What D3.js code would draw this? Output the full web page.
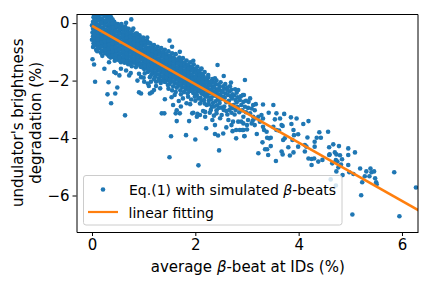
<!DOCTYPE html>
<html lang="en">

<head>
    <meta charset="UTF-8">
    <title>Brightness degradation vs beta-beat</title>
    <script src="https://d3js.org/d3.v7.min.js"></script>
    <style>
        html, body { margin: 0; padding: 0; background: #fff; }
        svg { display: block; }
        text { font-family: "DejaVu Sans", sans-serif; fill: #000; }
        .domain, .tick line { stroke: #000; stroke-width: 1px; }
    </style>
</head>

<body>
    <div id="chart"></div>

    <script>
        // Points, [beta-beat %, degradation %]
        // the thick band, left part
        const bandLeft = [
            [0.01,0.38],[0.03,0.2],[0.02,0.05],[0.0,-0.08],[0.02,-0.2],[0.01,-0.33],[0.02,-0.46],[0.0,-0.58],[0.03,-0.7],[0.02,-0.83],
            [0.07,0.33],[0.09,0.16],[0.07,0.02],[0.08,-0.14],[0.1,-0.27],[0.06,-0.39],[0.09,-0.52],[0.07,-0.66],[0.1,-0.79],[0.08,-0.93],
            [0.15,0.36],[0.13,0.21],[0.16,0.07],[0.14,-0.08],[0.16,-0.22],[0.13,-0.36],[0.17,-0.49],[0.14,-0.62],[0.16,-0.75],[0.13,-0.88],[0.17,-1.03],
            [0.22,0.3],[0.2,0.14],[0.23,0.0],[0.21,-0.15],[0.24,-0.29],[0.2,-0.43],[0.23,-0.56],[0.21,-0.71],[0.24,-0.84],[0.22,-0.98],[0.2,-1.14],
            [0.28,0.33],[0.3,0.17],[0.27,0.02],[0.31,-0.12],[0.29,-0.26],[0.27,-0.41],[0.3,-0.55],[0.28,-0.68],[0.31,-0.82],[0.28,-0.95],[0.3,-1.09],
            [0.37,0.2],[0.35,0.06],[0.38,-0.1],[0.36,-0.23],[0.34,-0.37],[0.38,-0.5],[0.35,-0.64],[0.37,-0.78],[0.34,-0.91],[0.38,-1.05],[0.36,-1.2],
            [0.43,0.05],[0.41,-0.09],[0.44,-0.22],[0.42,-0.36],[0.45,-0.5],[0.41,-0.63],[0.44,-0.77],[0.42,-0.92],[0.45,-1.05],[0.42,-1.19],[0.44,-1.31],
            [0.5,-0.03],[0.48,-0.16],[0.51,-0.3],[0.49,-0.44],[0.52,-0.58],[0.48,-0.72],[0.51,-0.85],[0.49,-0.99],[0.52,-1.12],[0.49,-1.27],
            [0.57,-0.1],[0.55,-0.24],[0.58,-0.37],[0.56,-0.51],[0.59,-0.65],[0.55,-0.79],[0.58,-0.92],[0.56,-1.06],[0.59,-1.2],[0.56,-1.36],
            [0.64,-0.12],[0.62,-0.27],[0.65,-0.41],[0.63,-0.55],[0.66,-0.68],[0.62,-0.82],[0.65,-0.96],[0.63,-1.1],[0.66,-1.24],[0.63,-1.38],
            [0.71,-0.2],[0.69,-0.34],[0.72,-0.48],[0.7,-0.62],[0.73,-0.75],[0.69,-0.89],[0.72,-1.03],[0.7,-1.16],[0.73,-1.3],[0.7,-1.43],
            [0.78,-0.26],[0.76,-0.41],[0.79,-0.55],[0.77,-0.69],[0.8,-0.82],[0.76,-0.96],[0.79,-1.1],[0.77,-1.24],[0.8,-1.37],[0.77,-1.5],
            [0.85,-0.36],[0.83,-0.5],[0.86,-0.63],[0.84,-0.77],[0.87,-0.91],[0.83,-1.05],[0.86,-1.18],[0.84,-1.32],[0.87,-1.45],
            [0.92,-0.42],[0.9,-0.55],[0.93,-0.69],[0.91,-0.83],[0.94,-0.97],[0.9,-1.1],[0.93,-1.24],[0.91,-1.38],[0.94,-1.52],
            [0.99,-0.5],[0.97,-0.63],[1.0,-0.77],[0.98,-0.91],[1.01,-1.04],[0.97,-1.18],[1.0,-1.32],[0.98,-1.46],[1.01,-1.6],
            [1.06,-0.6],[1.04,-0.73],[1.07,-0.87],[1.05,-1.01],[1.08,-1.15],[1.04,-1.28],[1.07,-1.42],[1.05,-1.56],[1.08,-1.7],
            [1.13,-0.7],[1.11,-0.84],[1.14,-0.97],[1.12,-1.11],[1.15,-1.25],[1.11,-1.39],[1.14,-1.52],[1.12,-1.65],[1.15,-1.8]
        ];
        // the thick band, right part
        const bandRight = [
            [1.2,-0.76],[1.18,-0.9],[1.21,-1.04],[1.19,-1.18],[1.22,-1.31],[1.18,-1.45],[1.21,-1.59],[1.19,-1.73],[1.22,-1.87],
            [1.27,-0.82],[1.25,-0.96],[1.28,-1.1],[1.26,-1.24],[1.29,-1.38],[1.25,-1.51],[1.28,-1.65],[1.26,-1.79],[1.29,-1.93],
            [1.34,-0.87],[1.32,-1.02],[1.35,-1.16],[1.33,-1.3],[1.36,-1.44],[1.32,-1.58],[1.35,-1.72],[1.33,-1.86],[1.36,-1.99],
            [1.41,-0.93],[1.39,-1.08],[1.42,-1.22],[1.4,-1.36],[1.43,-1.5],[1.39,-1.64],[1.42,-1.78],[1.4,-1.92],
            [1.48,-0.98],[1.46,-1.14],[1.49,-1.28],[1.47,-1.42],[1.5,-1.56],[1.46,-1.7],[1.49,-1.84],[1.47,-1.98],[1.5,-2.12],
            [1.55,-1.05],[1.53,-1.2],[1.56,-1.34],[1.54,-1.48],[1.57,-1.62],[1.53,-1.76],[1.56,-1.9],[1.54,-2.04],[1.57,-2.2],
            [1.62,-1.08],[1.6,-1.25],[1.63,-1.4],[1.61,-1.54],[1.64,-1.68],[1.6,-1.82],[1.63,-1.96],[1.61,-2.1],[1.64,-2.25],
            [1.69,-1.2],[1.67,-1.34],[1.7,-1.48],[1.68,-1.62],[1.71,-1.76],[1.67,-1.9],[1.7,-2.04],[1.68,-2.18],[1.71,-2.34],
            [1.76,-1.22],[1.74,-1.38],[1.77,-1.52],[1.75,-1.67],[1.78,-1.81],[1.74,-1.95],[1.77,-2.09],[1.75,-2.24],
            [1.83,-1.3],[1.81,-1.45],[1.84,-1.6],[1.82,-1.74],[1.85,-1.88],[1.81,-2.02],[1.84,-2.16],[1.82,-2.3],[1.85,-2.44],
            [1.9,-1.36],[1.88,-1.52],[1.91,-1.66],[1.89,-1.8],[1.92,-1.94],[1.88,-2.08],[1.91,-2.22],[1.89,-2.36],
            [1.97,-1.44],[1.95,-1.58],[1.98,-1.72],[1.96,-1.87],[1.99,-2.01],[1.95,-2.15],[1.98,-2.29],[1.96,-2.43],
            [2.04,-1.52],[2.02,-1.66],[2.05,-1.8],[2.03,-1.95],[2.06,-2.09],[2.02,-2.23],[2.05,-2.37],[2.03,-2.5],
            [2.11,-1.6],[2.09,-1.74],[2.12,-1.88],[2.1,-2.02],[2.13,-2.16],[2.09,-2.3],[2.12,-2.45],[2.1,-2.6],
            [2.18,-1.7],[2.16,-1.84],[2.19,-1.98],[2.17,-2.12],[2.2,-2.26],[2.16,-2.4],[2.19,-2.54],[2.17,-2.68],
            [2.25,-1.88],[2.23,-2.0],[2.26,-2.14],[2.24,-2.28],[2.27,-2.42],[2.23,-2.56],[2.26,-2.7],
            [2.33,-1.95],[2.31,-2.08],[2.34,-2.22],[2.32,-2.36],[2.35,-2.5],[2.31,-2.64],[2.34,-2.78],
            [2.41,-2.0],[2.39,-2.14],[2.42,-2.3],[2.4,-2.44],[2.43,-2.58],[2.39,-2.72],[2.42,-2.86],
            [2.49,-2.06],[2.47,-2.22],[2.5,-2.36],[2.48,-2.5],[2.51,-2.64],[2.47,-2.78],[2.5,-2.94],
            [2.58,-2.12],[2.56,-2.28],[2.59,-2.45],[2.57,-2.6],[2.6,-2.75],[2.56,-2.9],[2.6,-3.06],
            [2.67,-2.2],[2.66,-2.38],[2.69,-2.55],[2.65,-2.7],[2.68,-2.88],[2.66,-3.02],
            [2.77,-2.3],[2.75,-2.52],[2.78,-2.68],[2.74,-2.85],[2.78,-3.02],[2.76,-3.18]
        ];
        // more of the solid middle of the band
        const bandFill = [
            [0.04,0.28],[0.05,0.12],[0.04,-0.03],[0.05,-0.15],[0.04,-0.27],[0.05,-0.4],[0.04,-0.53],[0.05,-0.64],[0.04,-0.76],
            [0.11,0.25],[0.12,0.1],[0.11,-0.05],[0.12,-0.2],[0.11,-0.33],[0.12,-0.46],[0.11,-0.58],[0.12,-0.72],[0.11,-0.86],[0.1,-0.98],
            [0.18,0.3],[0.19,0.15],[0.18,0.0],[0.19,-0.15],[0.18,-0.29],[0.19,-0.43],[0.18,-0.55],[0.19,-0.68],[0.18,-0.82],[0.19,-0.96],
            [0.25,0.24],[0.26,0.08],[0.25,-0.08],[0.26,-0.22],[0.25,-0.36],[0.26,-0.5],[0.25,-0.63],[0.26,-0.77],[0.25,-0.91],[0.26,-1.05],
            [0.33,0.24],[0.33,0.1],[0.33,-0.05],[0.34,-0.19],[0.32,-0.33],[0.33,-0.48],[0.32,-0.61],[0.33,-0.75],[0.32,-0.88],[0.33,-1.02],[0.33,-1.15],
            [0.4,0.12],[0.4,-0.02],[0.41,-0.16],[0.39,-0.3],[0.4,-0.43],[0.39,-0.57],[0.4,-0.71],[0.39,-0.85],[0.4,-0.98],[0.4,-1.12],
            [0.46,-0.02],[0.47,-0.1],[0.46,-0.28],[0.47,-0.42],[0.46,-0.56],[0.47,-0.69],[0.46,-0.83],[0.47,-0.97],[0.46,-1.11],[0.47,-1.23],
            [0.53,-0.1],[0.54,-0.2],[0.53,-0.37],[0.54,-0.5],[0.53,-0.64],[0.54,-0.78],[0.53,-0.92],[0.54,-1.05],[0.53,-1.19],[0.54,-1.3],
            [0.6,-0.18],[0.61,-0.32],[0.6,-0.45],[0.61,-0.59],[0.6,-0.73],[0.61,-0.87],[0.6,-1.0],[0.61,-1.15],[0.6,-1.29],
            [0.67,-0.25],[0.68,-0.38],[0.67,-0.52],[0.68,-0.66],[0.67,-0.8],[0.68,-0.94],[0.67,-1.08],[0.68,-1.2],[0.67,-1.35],
            [0.74,-0.33],[0.75,-0.47],[0.74,-0.6],[0.75,-0.74],[0.74,-0.88],[0.75,-1.02],[0.74,-1.16],[0.75,-1.3],[0.74,-1.42],
            [0.81,-0.4],[0.82,-0.54],[0.81,-0.68],[0.82,-0.82],[0.81,-0.96],[0.82,-1.1],[0.81,-1.23],[0.82,-1.38],
            [0.88,-0.47],[0.89,-0.61],[0.88,-0.75],[0.89,-0.89],[0.88,-1.03],[0.89,-1.17],[0.88,-1.3],[0.89,-1.44],
            [0.95,-0.55],[0.96,-0.69],[0.95,-0.83],[0.96,-1.0],[0.95,-1.12],[0.96,-1.25],[0.95,-1.4],[0.96,-1.53],
            [1.02,-0.66],[1.03,-0.8],[1.02,-0.94],[1.03,-1.08],[1.02,-1.22],[1.03,-1.35],[1.02,-1.49],
            [1.09,-0.7],[1.1,-0.9],[1.09,-1.04],[1.1,-1.18],[1.09,-1.32],[1.1,-1.46],[1.09,-1.6],
            [1.16,-0.83],[1.17,-0.97],[1.16,-1.11],[1.17,-1.25],[1.16,-1.39],[1.17,-1.53],[1.16,-1.67],
            [1.23,-0.89],[1.24,-1.03],[1.23,-1.17],[1.24,-1.31],[1.23,-1.45],[1.24,-1.59],[1.23,-1.73],
            [1.3,-0.95],[1.31,-1.09],[1.3,-1.23],[1.31,-1.37],[1.3,-1.51],[1.31,-1.65],[1.3,-1.79],
            [1.37,-1.01],[1.38,-1.15],[1.37,-1.29],[1.38,-1.43],[1.37,-1.57],[1.38,-1.71],[1.37,-1.85],
            [1.44,-1.07],[1.45,-1.21],[1.44,-1.35],[1.45,-1.49],[1.44,-1.63],[1.45,-1.77],[1.44,-1.91],
            [1.51,-1.13],[1.52,-1.27],[1.51,-1.41],[1.52,-1.55],[1.51,-1.69],[1.52,-1.83],[1.51,-1.97],
            [1.58,-1.19],[1.59,-1.33],[1.58,-1.47],[1.59,-1.61],[1.58,-1.75],[1.59,-1.89],[1.58,-2.03],
            [1.65,-1.27],[1.66,-1.41],[1.65,-1.55],[1.66,-1.69],[1.65,-1.83],[1.66,-1.97],[1.65,-2.11],
            [1.72,-1.3],[1.73,-1.45],[1.72,-1.59],[1.73,-1.74],[1.72,-1.88],[1.73,-2.02],[1.72,-2.16],
            [1.79,-1.37],[1.8,-1.52],[1.79,-1.67],[1.8,-1.81],[1.79,-1.95],[1.8,-2.09],[1.79,-2.23],
            [1.86,-1.44],[1.87,-1.59],[1.86,-1.73],[1.87,-1.87],[1.86,-2.01],[1.87,-2.15],[1.86,-2.29],
            [1.93,-1.51],[1.94,-1.65],[1.93,-1.8],[1.94,-1.94],[1.93,-2.08],[1.94,-2.22],[1.93,-2.36],
            [2.0,-1.59],[2.01,-1.73],[2.0,-1.88],[2.01,-2.02],[2.0,-2.16],[2.01,-2.3],[2.0,-2.44],
            [2.07,-1.67],[2.08,-1.81],[2.07,-1.95],[2.08,-2.09],[2.07,-2.23],[2.08,-2.37],
            [2.14,-1.77],[2.15,-1.91],[2.14,-2.05],[2.15,-2.19],[2.14,-2.33],[2.15,-2.47],
            [2.21,-1.92],[2.22,-2.06],[2.21,-2.2],[2.22,-2.34],[2.21,-2.48],
            [2.29,-2.03],[2.28,-2.17],[2.29,-2.31],[2.28,-2.45],[2.29,-2.6],
            [2.37,-2.07],[2.36,-2.25],[2.37,-2.38],[2.36,-2.53],
            [2.45,-2.14],[2.44,-2.34],[2.45,-2.48],[2.44,-2.66],
            [2.54,-2.2],[2.53,-2.4],[2.54,-2.56],[2.62,-2.33],[2.63,-2.5]
        ];
        // loose points above the band
        const upperEdge = [
            [0.35,0.28],[0.76,0.13],[0.66,0.01],[0.57,-0.03],[0.67,-0.19],[0.8,-0.19],[0.87,-0.36],[1.07,-0.5],[0.99,-0.57],[1.1,-0.68],
            [1.5,-0.61],[1.55,-0.82],[1.7,-1.0],[1.96,-1.31],[2.12,-1.58],[2.25,-1.81],[2.38,-1.92],[2.43,-1.46],[2.55,-1.84],[2.69,-2.07],
            [2.96,-1.98],[2.83,-2.33],[2.92,-2.5],[3.03,-2.74]
        ];
        // loose points below the band
        const lowerScatter = [
            [0.01,-1.26],[0.04,-1.44],[0.24,-1.59],[0.33,-1.36],[0.43,-1.7],[0.46,-1.74],[0.56,-1.59],[0.66,-1.65],[0.75,-1.74],[0.72,-1.82],
            [0.53,-1.82],[0.91,-1.76],[0.95,-1.88],[0.85,-1.53],[0.06,-2.04],[0.32,-2.06],[0.49,-2.24],[0.3,-2.48],[0.45,-2.45],[0.37,-2.79],
            [0.64,-3.21],[0.88,-2.0],[0.91,-2.41],[0.95,-2.45],[1.12,-2.45],[1.16,-2.41],[1.2,-2.33],[1.24,-2.19],[1.1,-2.19],[1.32,-2.27],
            [1.41,-2.65],[1.35,-3.14],[1.4,-3.14],[1.01,-2.04],[1.08,-2.1],[1.14,-2.04],[1.24,-2.04],[1.33,-2.08],[1.4,-2.04],
            [1.64,-3.41],[1.88,-3.41],[1.53,-3.94],[1.5,-4.67],[1.82,-3.9],[2.0,-4.05],[2.06,-4.95],[2.46,-4.43],[2.38,-3.86],[2.44,-3.91],
            [2.54,-3.84],[2.79,-4.01],[2.95,-3.94],[2.21,-3.66],[2.38,-3.55],[2.33,-3.37],[2.6,-3.63],[2.7,-3.55],[2.72,-3.76],[2.79,-3.72],
            [2.86,-3.72],[2.93,-3.72],[1.62,-3.14],[1.7,-3.14],[1.94,-3.14],[2.03,-3.26],[2.09,-3.2],[2.19,-3.26],[2.19,-3.09],[2.41,-3.14],
            [2.48,-3.31],[2.64,-3.37],[2.73,-3.43],[2.83,-3.43],[2.93,-3.49],[3.0,-3.55],[1.6,-2.5],[1.54,-2.58],[1.68,-2.71],[1.57,-2.85],
            [1.64,-3.03],[1.83,-2.79],[1.96,-3.12],[2.04,-3.16],[2.15,-3.06],[2.22,-2.85],[2.32,-2.91],[2.41,-3.03],[2.51,-3.2],[2.09,-2.8],
            [1.99,-2.56],[2.06,-2.62],
            [2.62,-2.24],[2.7,-2.32],[2.72,-2.48],[2.8,-2.42],[2.82,-2.58],[2.71,-2.62],[2.8,-2.76],[2.72,-2.95],[2.82,-2.92],[2.85,-3.1],
            [2.7,-3.12],[2.62,-3.18],[2.55,-3.02],[2.88,-2.55],[2.98,-2.7],[2.98,-3.1],[3.02,-2.95],
            [1.48,-2.28],[1.55,-2.34],[1.62,-2.4],[1.72,-2.48],[1.78,-2.4],[1.86,-2.56],[1.92,-2.66],[1.76,-2.62],[1.9,-2.82],[1.72,-2.9],
            [2.0,-2.7],[2.12,-2.7],[2.18,-2.8],[2.26,-2.82],[2.3,-3.02],[2.36,-2.9],[2.45,-2.95],[2.28,-3.12],[2.36,-3.22],
            [1.02,-1.75],[1.12,-1.88],[1.2,-1.95],[1.3,-2.0],[1.42,-2.05],[1.47,-2.15],[1.0,-1.9]
        ];
        // the thinning part from x = 2.9 to the right edge
        const tail = [
            [3.31,-2.83],[3.51,-2.85],[3.06,-2.62],[2.94,-2.5],[3.72,-3.16],[3.85,-3.28],[3.96,-3.32],[4.09,-3.51],[4.19,-3.41],[3.86,-3.51],
            [4.4,-3.8],[4.57,-3.78],[4.17,-3.98],[4.35,-3.99],[4.43,-3.99],[4.31,-4.13],[3.9,-3.72],[3.91,-3.9],[3.99,-3.87],[3.7,-4.07],
            [3.73,-4.01],[3.88,-4.07],[3.99,-4.3],[3.8,-4.32],[4.12,-4.24],[4.15,-4.3],[4.31,-4.3],[3.9,-4.5],[3.83,-4.61],[3.67,-4.47],
            [3.69,-4.57],[4.12,-4.47],[4.19,-4.71],[4.25,-4.73],[4.3,-4.71],[4.25,-4.94],[4.38,-4.82],[4.46,-4.76],[4.59,-4.32],[4.59,-4.59],
            [3.56,-4.8],[3.22,-4.53],[3.35,-4.39],[3.39,-4.39],[3.46,-4.28],[3.41,-4.59],[3.3,-4.15],[3.39,-3.99],[3.43,-4.01],[3.46,-3.99],
            [3.19,-3.86],[2.95,-3.93],[2.91,-3.72],[3.0,-3.7],[3.31,-3.61],[3.33,-3.72],[3.38,-3.78],[3.51,-3.61],[3.57,-3.72],[3.62,-3.74],
            [3.69,-3.58],[3.42,-3.12],[3.57,-3.14],[3.54,-3.35],[3.64,-3.32],[3.67,-3.55],[3.28,-3.2],[3.31,-3.32],[3.25,-3.43],[3.12,-2.85],
            [3.17,-2.82],[3.09,-2.97],[3.15,-3.03],[3.06,-3.14],[3.12,-3.26],[3.02,-3.37],[3.09,-3.49],[3.15,-3.55],[2.91,-3.03],[2.89,-2.85],
            [2.96,-2.91],[2.86,-2.68],[2.93,-2.74],[2.93,-3.26],[2.89,-3.43],[3.15,-3.32],[3.22,-3.26],[3.11,-3.4],
            [4.67,-4.22],[4.78,-4.28],[4.96,-4.36],[5.09,-4.5],[4.96,-4.59],[4.6,-4.57],[4.7,-4.5],[4.73,-4.57],[4.8,-4.6],[4.84,-4.74],
            [4.72,-4.77],[4.75,-4.82],[4.65,-4.88],[4.82,-4.92],[4.96,-4.94],[4.77,-5.02],[4.73,-5.16],[4.85,-5.29],[4.98,-5.19],[5.06,-5.25],
            [5.19,-5.06],[5.31,-5.16],[5.39,-5.06],[5.41,-5.19],[5.46,-5.16],[5.28,-5.33],[5.37,-5.33],[5.48,-5.4],[5.23,-5.54],[5.5,-5.54],
            [5.51,-5.61],[5.85,-5.19],[5.21,-5.99],[5.04,-6.66],[5.95,-6.72],[6.27,-5.72],[4.62,-5.44],[4.72,-5.65]
        ];
        const fitX = [0, 6.5];
        const fitY = [-0.1, -6.7];
        const xTicks = [0, 2, 4, 6];
        const yTicks = [0, -2, -4, -6];
        const yLabelLines = ["undulator's brightness", "degradation (%)"];

        const width = 432, height = 288;
        const plotLeft = 76.5, plotRight = 418, plotTop = 14.5, plotBottom = 232;

        const x = d3.scaleLinear().domain([-0.3, 6.31]).range([plotLeft, plotRight]);
        const y = d3.scaleLinear().domain([0.3, -7.27]).range([plotTop, plotBottom]);

        const svg = d3.select("#chart").append("svg")
            .attr("width", width).attr("height", height);

        svg.append("clipPath").attr("id", "plot-area").append("rect")
            .attr("x", plotLeft).attr("y", plotTop)
            .attr("width", plotRight - plotLeft).attr("height", plotBottom - plotTop);

        const plot = svg.append("g").attr("clip-path", "url(#plot-area)");

        const points = [].concat(bandLeft, bandRight, bandFill, upperEdge, lowerScatter, tail);

        plot.selectAll("circle")
            .data(points)
            .enter().append("circle")
            .attr("cx", d => x(d[0]))
            .attr("cy", d => y(d[1]))
            .attr("r", 2.3)
            .attr("fill", "#1f77b4");

        plot.append("path")
            .datum(fitX.map((v, i) => [v, fitY[i]]))
            .attr("fill", "none")
            .attr("stroke", "#ff7f0e")
            .attr("stroke-width", 2.6)
            .attr("d", d3.line().x(d => x(d[0])).y(d => y(d[1])));

        // Axes
        svg.append("g")
            .attr("transform", `translate(0,${plotBottom})`)
            .call(d3.axisBottom(x).tickValues(xTicks).tickFormat(d3.format("d")).tickSizeInner(4).tickSizeOuter(0).tickPadding(3))
            .call(g => g.selectAll("text").style("font-size", "15px"));

        svg.append("g")
            .attr("transform", `translate(${plotLeft},0)`)
            .call(d3.axisLeft(y).tickValues(yTicks).tickFormat(d3.format("d")).tickSizeInner(4).tickSizeOuter(0).tickPadding(3))
            .call(g => g.selectAll("text").style("font-size", "15px"));

        // top and right spines
        svg.append("path")
            .attr("fill", "none").attr("stroke", "#000")
            .attr("d", `M${plotLeft},${plotTop}H${plotRight}V${plotBottom}`);

        // Axis titles
        const xTitle = svg.append("text")
            .attr("x", (plotLeft + plotRight) / 2 + 0.5).attr("y", 272)
            .attr("text-anchor", "middle").style("font-size", "15px");
        xTitle.append("tspan").text("average ");
        xTitle.append("tspan").style("font-style", "italic").text("β");
        xTitle.append("tspan").text("-beat at IDs (%)");

        yLabelLines.forEach((line, i) => {
            svg.append("text")
                .attr("transform", `translate(${23 + i * 18},${(plotTop + plotBottom) / 2 - 0.5}) rotate(-90)`)
                .attr("text-anchor", "middle").style("font-size", "15px")
                .text(line);
        });

        // Legend
        const legend = svg.append("g");
        legend.append("rect")
            .attr("x", 83.5).attr("y", 175.5).attr("width", 258.5).attr("height", 49.5).attr("rx", 2.5)
            .attr("fill", "#fff").attr("fill-opacity", 0.8)
            .attr("stroke", "#ccc").attr("stroke-width", 1);
        legend.append("circle")
            .attr("cx", 103).attr("cy", 189.5).attr("r", 2.3).attr("fill", "#1f77b4");
        legend.append("line")
            .attr("x1", 88).attr("x2", 118).attr("y1", 212).attr("y2", 212)
            .attr("stroke", "#ff7f0e").attr("stroke-width", 2.2);

        const eqLabel = legend.append("text")
            .attr("x", 129).attr("y", 195).style("font-size", "14px");
        eqLabel.append("tspan").text("Eq.(1) with simulated ");
        eqLabel.append("tspan").style("font-style", "italic").text("β");
        eqLabel.append("tspan").text("-beats");

        legend.append("text")
            .attr("x", 128.5).attr("y", 217.5).style("font-size", "14px")
            .text("linear fitting");
    </script>
</body>
</html>
